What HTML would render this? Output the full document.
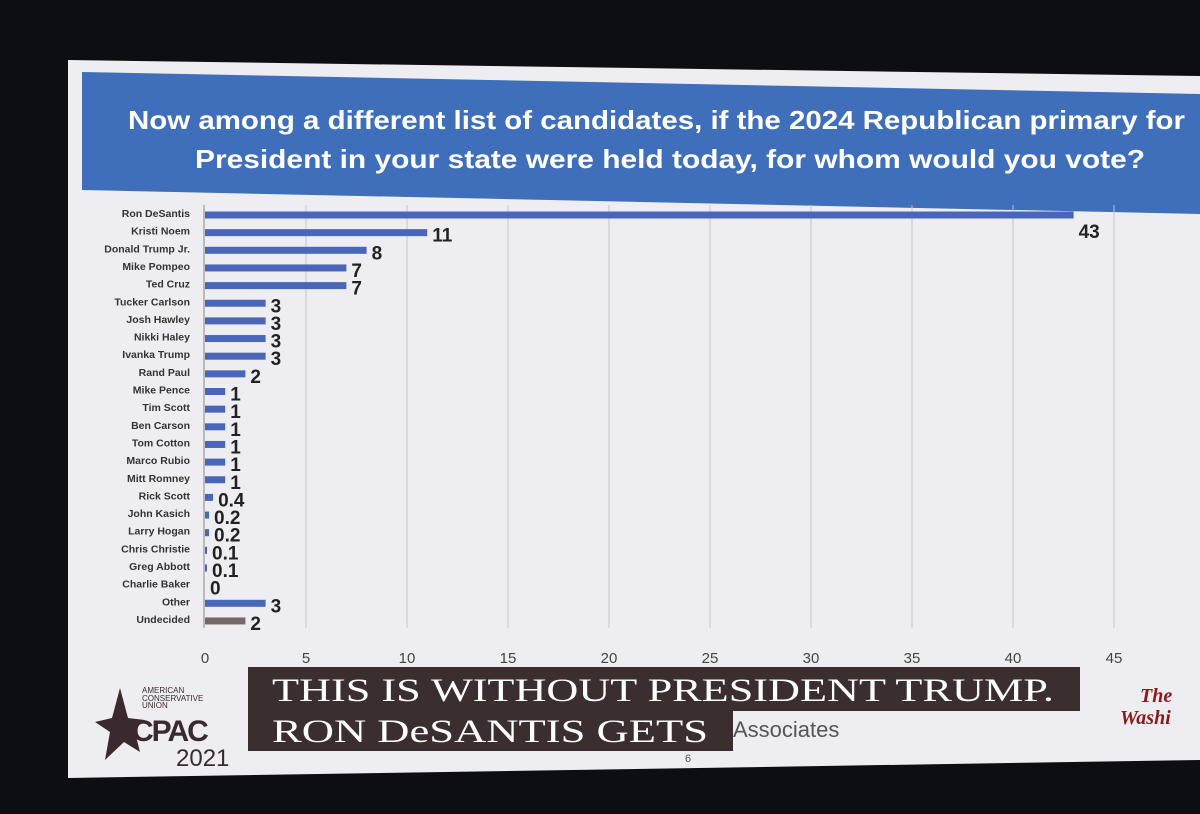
<!DOCTYPE html>
<html><head><meta charset="utf-8"><style>
html,body{margin:0;padding:0;background:#0b0d12;width:1200px;height:814px;overflow:hidden}
svg{display:block}
.s{font-family:"Liberation Sans",sans-serif}
.serif{font-family:"Liberation Serif",serif}
</style></head><body>
<svg width="1200" height="814" viewBox="0 0 1200 814">
<rect x="0" y="0" width="1200" height="814" fill="#0c0e14"/>
<polygon points="68,60 1200,76 1200,760 68,778" fill="#eeeef2"/>
<polygon points="82,72 1200,94 1200,214 82,190" fill="#3f6fba"/>
<text class="s" x="128" y="129" font-size="26" font-weight="bold" fill="#fff" textLength="1057" lengthAdjust="spacingAndGlyphs">Now among a different list of candidates, if the 2024 Republican primary for</text>
<text class="s" x="195" y="168" font-size="26" font-weight="bold" fill="#fff" textLength="950" lengthAdjust="spacingAndGlyphs">President in your state were held today, for whom would you vote?</text>
<g id="grid"></g>
<g id="bars"></g>
<g id="xt"></g>
<rect x="248" y="667" width="832" height="44" fill="#3a2e2e"/>
<text class="serif" x="272" y="701" font-size="33" fill="#fff" textLength="782" lengthAdjust="spacingAndGlyphs">THIS IS WITHOUT PRESIDENT TRUMP.</text>
<rect x="248" y="709" width="485" height="42" fill="#3a2e2e"/>
<text class="serif" x="272" y="742" font-size="33" fill="#fff" textLength="436" lengthAdjust="spacingAndGlyphs">RON DeSANTIS GETS</text>
<text class="s" x="733" y="737" font-size="22" fill="#555">Associates</text>
<text class="s" x="685" y="762" font-size="11" fill="#555">6</text>
<g>
<polygon points="120,688 112,718 95,722 110,732 105,760 124,742 140,752 134,728 145,720 128,718" fill="#3a2a30"/>
<text class="s" x="142" y="693" font-size="8" fill="#3a2a30">AMERICAN</text>
<text class="s" x="142" y="701" font-size="8" fill="#3a2a30">CONSERVATIVE</text>
<text class="s" x="142" y="708" font-size="8" fill="#3a2a30">UNION</text>
<text class="s" x="132" y="741" font-size="30" font-weight="bold" fill="#3a2a30" letter-spacing="-2">CPAC</text>
<text class="s" x="176" y="766" font-size="24" fill="#3a2a30">2021</text>
</g>
<g>
<text class="serif" x="1140" y="702" font-size="20" font-weight="bold" font-style="italic" fill="#8a1a1a">The</text>
<text class="serif" x="1120" y="724" font-size="20" font-weight="bold" font-style="italic" fill="#8a1a1a">Washi</text>
</g>
</svg>
<script>
const categories=["Ron DeSantis","Kristi Noem","Donald Trump Jr.","Mike Pompeo","Ted Cruz","Tucker Carlson","Josh Hawley","Nikki Haley","Ivanka Trump","Rand Paul","Mike Pence","Tim Scott","Ben Carson","Tom Cotton","Marco Rubio","Mitt Romney","Rick Scott","John Kasich","Larry Hogan","Chris Christie","Greg Abbott","Charlie Baker","Other","Undecided"];
const values=[43,11,8,7,7,3,3,3,3,2,1,1,1,1,1,1,0.4,0.2,0.2,0.1,0.1,0,3,2];
const labels=["43","11","8","7","7","3","3","3","3","2","1","1","1","1","1","1","0.4","0.2","0.2","0.1","0.1","0","3","2"];
const ticks=[0,5,10,15,20,25,30,35,40,45];
const NS="http://www.w3.org/2000/svg";
const x=v=>205+v*20.2;
const y=i=>213+i*17.65;
function mk(tag,attrs,parent,txt){const e=document.createElementNS(NS,tag);for(const k in attrs)e.setAttribute(k,attrs[k]);if(txt!==undefined)e.textContent=txt;parent.appendChild(e);return e;}
const grid=document.getElementById('grid'),bars=document.getElementById('bars'),xt=document.getElementById('xt');
ticks.forEach((t,i)=>{
  if(i>0){const l=mk('line',{x1:x(t),x2:x(t),y1:205,y2:628,stroke:'#c4c4ca','stroke-width':1},grid);
  
  }
  const tx=mk('text',{class:'s',x:x(t),y:663,'text-anchor':'middle','font-size':15,fill:'#444'},xt,String(t));
  
  
});
const ax=mk('line',{x1:204,x2:204,y1:205,y2:628,stroke:'#888','stroke-width':1},grid);


categories.forEach((c,i)=>{
  const cy=y(i);
  const t=mk('text',{class:'s',x:190,y:cy+4,'text-anchor':'end','font-size':10.5,'font-weight':'bold',fill:'#333'},bars,c);
  
  
  const w=Math.max(values[i]*20.2,values[i]>0?2:0);
  const b=mk('rect',{x:205,y:cy-1.5,width:w,height:7,fill:i===23?'#7a6666':'#4a66b8'},bars);
  
  
  const v=mk('text',{class:'s',x:205+w+5,y:cy+(i===0?25:11),'font-size':19,'font-weight':'bold',fill:'#222'},bars,labels[i]);
  
  
});
</script>
</body></html>
